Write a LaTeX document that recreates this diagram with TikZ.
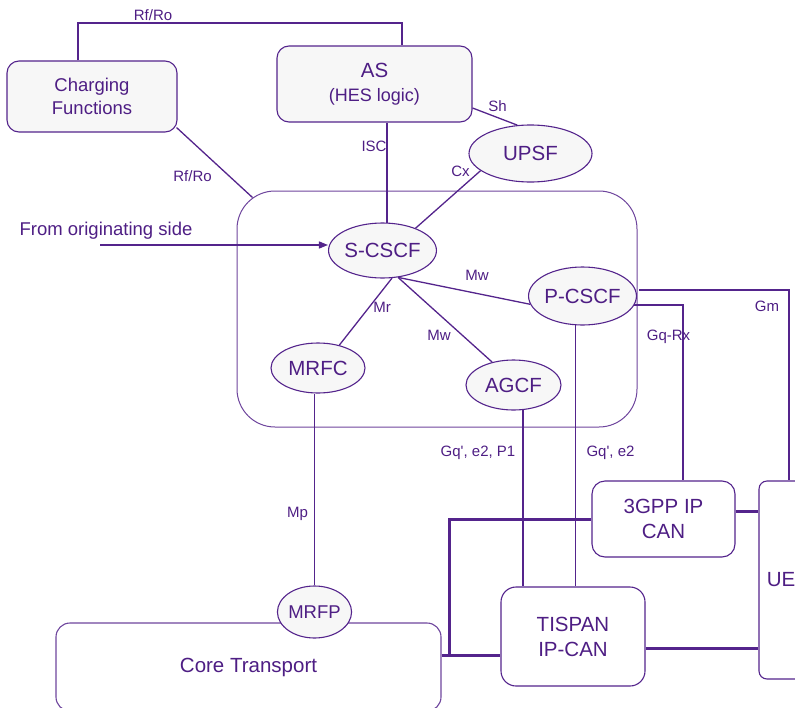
\documentclass[tikz,border=0pt]{standalone}
\usepackage{fontspec}
\setmainfont{Liberation Sans}
\usetikzlibrary{shapes.geometric,arrows.meta}
\definecolor{imsline}{RGB}{84,36,140}
\definecolor{imstext}{RGB}{78,30,132}
\definecolor{imsfill}{RGB}{247,247,247}

\begin{document}
\begin{tikzpicture}[x=1pt,y=-1pt,
    every node/.style={text=imstext},
    fe/.style={ellipse,draw=imsline,line width=1.1pt,fill=imsfill,inner sep=0pt,font=\fontsize{20.5}{24}\selectfont},
    fbox/.style={rectangle,rounded corners=12pt,draw=imsline,line width=1.1pt,fill=imsfill,inner sep=0pt,align=center},
    can/.style={rectangle,rounded corners=13pt,draw=imsline,line width=1.1pt,fill=white,inner sep=0pt,align=center,font=\fontsize{20.5}{25}\selectfont},
    lbl/.style={inner sep=0pt,font=\fontsize{15}{18}\selectfont},
    link/.style={draw=imsline,line width=1.3pt},
    trunk/.style={draw=imsline,line width=3pt}]
    \useasboundingbox (0,0) rectangle (795,707);
    \clip (0,0) rectangle (795,707);

    % IMS core frame and transport
    \node[draw=imsline!85,line width=1pt,rounded corners=38pt,minimum width=400pt,minimum height=236pt,inner sep=0pt] (ims) at (437,309) {};
    \node[can,draw=imsline!85,rounded corners=14pt,minimum width=385pt,minimum height=88pt] (core) at (248.5,667) {Core Transport};

    \node[fbox,minimum width=170pt,minimum height=71pt,font=\fontsize{18.5}{23}\selectfont] (charging) at (92,96.5) {Charging\\Functions};
    \node[fbox,minimum width=195pt,minimum height=76pt,font=\fontsize{18}{24}\selectfont] (as) at (374.5,84) {{\fontsize{20.5}{24}\selectfont AS}\\(HES logic)};
    \node[fe,minimum width=123pt,minimum height=57pt] (upsf) at (530.5,153.5) {UPSF};
    \node[fe,minimum width=101pt,minimum height=55pt] (scscf) at (382.5,250.5) {S-CSCF};
    \node[fe,minimum width=95pt,minimum height=58pt] (pcscf) at (582.5,296) {P-CSCF};
    \node[fe,minimum width=95pt,minimum height=50pt] (agcf) at (513.5,385) {AGCF};
    \node[fe,minimum width=94pt,minimum height=50pt] (mrfc) at (318,368) {MRFC};
    \node[fe,minimum width=67pt,minimum height=52pt,font=\fontsize{18.5}{22}\selectfont] (mrfp) at (314.5,612) {MRFP};

    \node[can,minimum width=143pt,minimum height=76pt] (gpp) at (663.5,519) {3GPP IP\\CAN};
    \node[can,rounded corners=15pt,minimum width=144pt,minimum height=99pt] (tispan) at (573,636.5) {TISPAN\\IP-CAN};
    \node[can,rounded corners=8pt,minimum width=44pt,minimum height=198pt,text width=44pt] (ue) at (781,580) {UE};

    \node[inner sep=0pt,font=\fontsize{18.5}{22}\selectfont] (origtext) at (106,231) {From originating side};
    \coordinate (orig) at (100,245);
    \coordinate (rftop) at (240,23);
    \coordinate (gm) at (639,290);
    \coordinate (hub) at (449,655);

    % interfaces
    \draw[link] ([xshift=-14pt]charging.north) |- (rftop) -| ([xshift=27.5pt]as.north);
    \draw[link] ([shift={(-1pt,5pt)}]charging.south east) -- ([shift={(16pt,-7pt)}]ims.north west);
    \draw[link] (scscf.81) -- (scscf.81 |- as.south);
    \draw[link] ([yshift=-24pt]as.east) -- (upsf.115);
    \draw[link] (upsf.-161) -- (scscf.34);
    \draw[link,-{Triangle[length=9pt,width=7pt]}] (orig) -- (orig -| scscf.west);
    \draw[link] (scscf.-60) -- (pcscf.-171);
    \draw[link] (scscf.-60) -- (agcf.133);
    \draw[link] (scscf.-71) -- (mrfc.47);
    \draw[link] (mrfp.north) -- (mrfp.north |- mrfc.south);
    \draw[link] (agcf.-69) -- (agcf.-69 |- tispan.north);
    \draw[link] (pcscf.-103) -- (pcscf.-103 |- tispan.north);
    \draw[link] (pcscf.-10) -| ([xshift=19.5pt]gpp.north);
    \draw[link] (gm) -| ([xshift=8pt]ue.north);

    % access links
    \draw[trunk] (core.east |- hub) -- (tispan.west |- hub);
    \draw[trunk] (hub) |- (gpp.west);
    \draw[trunk] ([yshift=8pt]gpp.east) -- ([yshift=8pt]gpp.east -| ue.west);
    \draw[trunk] ([yshift=-11.5pt]tispan.east) -- ([yshift=-11.5pt]tispan.east -| ue.west);

    \node[lbl] (lrftop) at (153,15.5) {Rf/Ro};
    \node[lbl] (lrf) at (192.5,176) {Rf/Ro};
    \node[lbl] (lisc) at (374,146) {ISC};
    \node[lbl] (lsh) at (497.5,106) {Sh};
    \node[lbl] (lcx) at (460.5,171) {Cx};
    \node[lbl] (lmwp) at (477,275) {Mw};
    \node[lbl] (lmwa) at (439,335.5) {Mw};
    \node[lbl] (lmr) at (382,307) {Mr};
    \node[lbl] (lgm) at (767,306) {Gm};
    \node[lbl] (lgqrx) at (668.5,337) {Gq-Rx};
    \node[lbl] (lgqa) at (478,453) {Gq\textquotesingle, e2, P1};
    \node[lbl] (lgqp) at (610.5,453) {Gq\textquotesingle, e2};
    \node[lbl] (lmp) at (297.5,514) {Mp};
\end{tikzpicture}
\end{document}
